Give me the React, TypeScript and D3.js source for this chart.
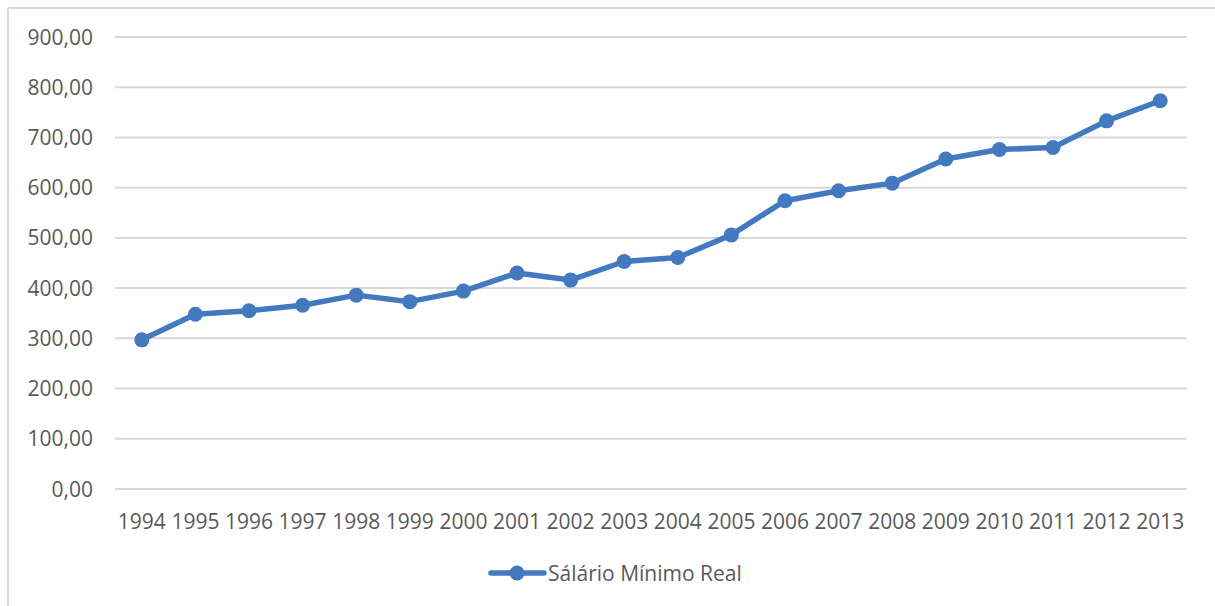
import React from "react";
import * as d3 from "d3";

const years = ["1994","1995","1996","1997","1998","1999","2000","2001","2002","2003","2004","2005","2006","2007","2008","2009","2010","2011","2012","2013"];
const salario = [297, 348, 355, 366, 386, 373, 394, 430, 416, 453, 461, 506, 574, 594, 609, 657, 676, 680, 733, 773];
const yTicks = [0, 100, 200, 300, 400, 500, 600, 700, 800, 900];
const seriesName = "Sálário Mínimo Real";

const W = 1215, H = 606;
const FONT = "'Open Sans', 'Noto Sans', sans-serif";
const TEXT = "#595959";
const GRID = "#d9d9d9";
const BLUE = "#4279bf";

export default function App() {
  const x = d3.scaleBand<string>().domain(years).range([115, 1187]);
  const y = d3.scaleLinear().domain([0, 900]).range([489, 37]);
  const cx = (yr: string) => (x(yr) as number) + x.bandwidth() / 2;
  const pts: [number, number][] = years.map((yr, i) => [cx(yr), y(salario[i])]);
  const line = d3.line().curve(d3.curveLinear)(pts) || "";
  const fmt = (v: number) => d3.format(".2f")(v).replace(".", ",");

  return (
    <svg width={W} height={H} style={{ position: "absolute", left: 0, top: 0, background: "#fff" }} fontFamily={FONT}>
      {/* chart frame */}
      <line x1={8} y1={8} x2={W} y2={8} stroke={GRID} strokeWidth={2} />
      <line x1={8} y1={8} x2={8} y2={H} stroke={GRID} strokeWidth={2} />
      {/* clipped title (mostly outside view) */}
      <text x={736} y={-7} fontSize={24} fill={TEXT} textAnchor="end">Salário Mínimo Real</text>
      <text x={749} y={-4.5} fontSize={24} fill={TEXT}>(</text>
      <text x={841} y={-7} fontSize={24} fill={TEXT} textAnchor="middle">1994 a 2013</text>
      <text x={932} y={-4.5} fontSize={24} fill={TEXT}>)</text>
      {/* gridlines + y labels */}
      {yTicks.map((t) => (
        <g key={t}>
          <line x1={115} x2={1187} y1={y(t)} y2={y(t)} stroke={GRID} strokeWidth={2} />
          <text x={93} y={y(t)} dy="0.36em" textAnchor="end" fontSize={21} fill={TEXT}>{fmt(t)}</text>
        </g>
      ))}
      {/* x labels */}
      {years.map((yr) => (
        <text key={yr} x={cx(yr)} y={529} textAnchor="middle" fontSize={21} fill={TEXT}>{yr}</text>
      ))}
      {/* series */}
      <path d={line} fill="none" stroke={BLUE} strokeWidth={5.5} strokeLinejoin="round" strokeLinecap="round" />
      {pts.map((p, i) => (
        <circle key={i} cx={p[0]} cy={p[1]} r={7.5} fill={BLUE} />
      ))}
      {/* legend */}
      <line x1={491} x2={544} y1={573} y2={573} stroke={BLUE} strokeWidth={5.5} strokeLinecap="round" />
      <circle cx={517} cy={573} r={7.5} fill={BLUE} />
      <text x={548} y={573} dy="0.36em" fontSize={21} fill={TEXT}>{seriesName}</text>
    </svg>
  );
}
